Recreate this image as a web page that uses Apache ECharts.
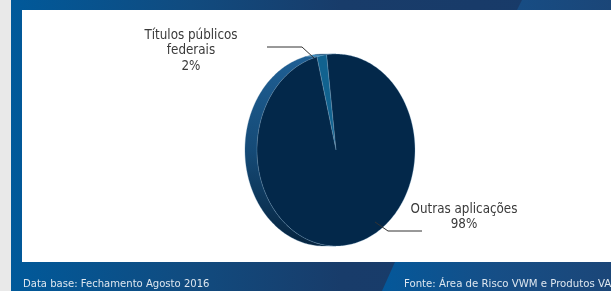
<!DOCTYPE html>
<html>
<head>
<meta charset="utf-8">
<script src="https://cdn.jsdelivr.net/npm/echarts@6/dist/echarts.min.js"></script>
<style>
  html, body { margin: 0; padding: 0; }
  #chart { width: 611px; height: 291px; }
</style>
</head>
<body>
<div id="chart"></div>
<script>
// dados do gráfico
const categories = ['Títulos públicos\nfederais', 'Outras aplicações'];
const shares = [2, 98];
const footerLeft = 'Data base: Fechamento Agosto 2016';
const footerRight = 'Fonte: Área de Risco VWM e Produtos VA';

// geometria da pizza (elipse com espessura à esquerda)
const pie = { cx: 336, cy: 150, rx: 79, ry: 96, depth: 12, startAngle: 104 };
const faceColors = ['#11628f', '#03284a'];
const sideColors = [
  ['#4a9ccc', '#2f7fb2'],
  ['#1f5f94', '#154a76', '#06243f']
];
// posição dos rótulos e linhas de chamada
const labelLayout = [
  { x: 191, y: 51, line: [[314, 58], [302, 47], [267, 47]] },
  { x: 464, y: 217, line: [[375, 222], [388, 231], [422, 231]] }
];
const FONT = "'Liberation Sans Narrow', 'DejaVu Sans Condensed', sans-serif";

const total = shares.reduce((a, b) => a + b, 0);

const renderSlice = (params, api) => {
  const i = params.dataIndex;
  let before = 0;
  for (let k = 0; k < i; k++) before += shares[k];
  const hi = pie.startAngle - (before / total) * 360;
  const lo = hi - (api.value(1) / total) * 360;

  const pt = (deg, dx) => {
    const a = (deg * Math.PI) / 180;
    return api.coord([pie.cx + dx + pie.rx * Math.cos(a), pie.cy - pie.ry * Math.sin(a)]);
  };
  const arc = (from, to, dx) => {
    const pts = [];
    const n = Math.max(2, Math.ceil(Math.abs(to - from)));
    for (let s = 0; s <= n; s++) pts.push(pt(from + ((to - from) * s) / n, dx));
    return pts;
  };

  const children = [];

  // lateral visível (metade esquerda: 90°..270°)
  const cols = sideColors[i];
  for (let k = -1; k <= 1; k++) {
    const a = Math.max(lo, 90 + 360 * k);
    const b = Math.min(hi, 270 + 360 * k);
    if (b <= a) continue;
    const pts = arc(a, b, 0).concat(arc(b, a, -pie.depth));
    children.push({
      type: 'polygon',
      z2: 1,
      shape: { points: pts },
      style: {
        fill: new echarts.graphic.LinearGradient(0, 0, 0, 1,
          cols.map((c, j) => ({ offset: j / (cols.length - 1), color: c }))),
        stroke: 'rgba(60,110,150,0.6)',
        lineWidth: 0.5
      }
    });
  }

  // face
  const facePts = [api.coord([pie.cx, pie.cy])].concat(arc(hi, lo, 0));
  children.push({
    type: 'polygon',
    z2: 10,
    shape: { points: facePts },
    style: { fill: faceColors[i], stroke: 'rgba(150,190,220,0.45)', lineWidth: 0.6 }
  });

  // rótulo
  const lay = labelLayout[i];
  children.push({
    type: 'polyline',
    z2: 20,
    shape: { points: lay.line.map(p => api.coord(p)) },
    style: { stroke: '#333333', lineWidth: 1, fill: null }
  });
  const c = api.coord([lay.x, lay.y]);
  children.push({
    type: 'text',
    z2: 20,
    style: {
      text: categories[i] + '\n' + api.value(1) + '%',
      x: c[0],
      y: c[1],
      align: 'center',
      verticalAlign: 'middle',
      fontSize: 13.3,
      fontFamily: FONT,
      lineHeight: 15.5,
      fill: '#3a3a3a'
    }
  });

  return { type: 'group', children };
};

const chart = echarts.init(document.getElementById('chart'));

chart.setOption({
  animation: false,
  grid: { left: 0, right: 0, top: 0, bottom: 0 },
  xAxis: { type: 'value', min: 0, max: 611, show: false },
  yAxis: { type: 'value', min: 0, max: 291, inverse: true, show: false },
  graphic: [
    { type: 'rect', shape: { x: 0, y: 0, width: 611, height: 291 }, style: { fill: '#e9e9e9' } },
    {
      type: 'rect',
      shape: { x: 11, y: 0, width: 600, height: 291 },
      style: {
        fill: new echarts.graphic.LinearGradient(0, 0, 1, 0, [
          { offset: 0, color: '#00599a' },
          { offset: 0.3, color: '#114b7f' },
          { offset: 0.55, color: '#183c6a' },
          { offset: 1, color: '#183a68' }
        ])
      }
    },
    {
      type: 'polygon',
      shape: { points: [[522, 0], [611, 0], [611, 291], [382, 291], [395, 262], [517, 10]] },
      style: {
        fill: new echarts.graphic.LinearGradient(0, 0, 1, 0, [
          { offset: 0, color: '#04589a' },
          { offset: 0.5, color: '#164e86' },
          { offset: 1, color: '#1b4678' }
        ])
      }
    },
    { type: 'rect', shape: { x: 22, y: 10, width: 589, height: 252 }, style: { fill: '#ffffff' } },
    {
      type: 'text',
      style: { text: footerLeft, x: 23, y: 284, verticalAlign: 'middle', fontSize: 11.2, fontFamily: FONT, fill: '#dde6ef' }
    },
    {
      type: 'text',
      style: { text: footerRight, x: 404, y: 284, verticalAlign: 'middle', fontSize: 11.3, fontFamily: FONT, fill: '#dde6ef' }
    }
  ],
  series: [
    {
      type: 'custom',
      coordinateSystem: 'cartesian2d',
      renderItem: renderSlice,
      data: categories.map((name, i) => [i, shares[i]]),
      silent: true
    }
  ]
});
</script>
</body>
</html>
